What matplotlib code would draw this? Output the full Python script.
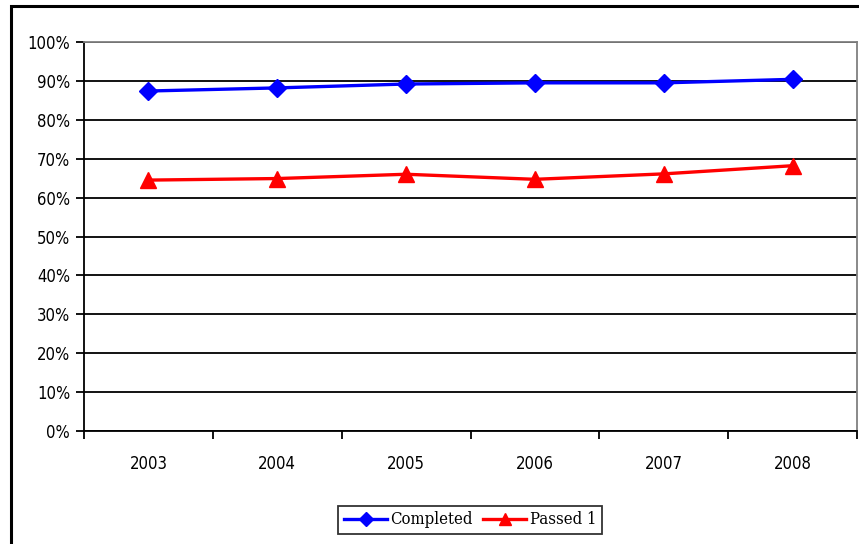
import matplotlib.pyplot as plt
from matplotlib.patches import Rectangle
from matplotlib.ticker import FixedLocator, PercentFormatter

years = ['2003', '2004', '2005', '2006', '2007', '2008']
completed = [87.4, 88.2, 89.2, 89.5, 89.5, 90.4]
passed_1 = [64.5, 64.9, 66.0, 64.7, 66.1, 68.2]

fig = plt.figure(figsize=(8.59, 5.44), dpi=100)
ax = fig.add_axes([0.0978, 0.2077, 0.8999, 0.7151])

# outer chart border
fig.patches.append(Rectangle((11 / 859, -0.05), 1.0, 0.05 + 1 - 6 / 544,
                             transform=fig.transFigure, fill=False,
                             edgecolor='black', linewidth=2.2))

x = range(len(years))
ax.plot(x, completed, color='#0000ff', lw=2.4, marker='D', ms=9, label='Completed')
ax.plot(x, passed_1, color='#ff0000', lw=2.4, marker='^', ms=11, label='Passed 1')

ax.set_xlim(-0.5, len(years) - 0.5)
ax.set_ylim(0, 100)
ax.set_yticks(range(0, 101, 10))
ax.yaxis.set_major_formatter(PercentFormatter(decimals=0))
ax.grid(axis='y', color='black', lw=1.3)
ax.set_axisbelow(True)

# category labels centered, tick marks at the category boundaries
ax.set_xticks(list(x))
ax.set_xticklabels(years)
ax.xaxis.set_minor_locator(FixedLocator([i - 0.5 for i in range(len(years) + 1)]))
ax.tick_params(axis='x', which='major', length=0, pad=17)
ax.tick_params(axis='x', which='minor', length=6, width=1.3, direction='out')
ax.tick_params(axis='y', length=6, width=1.3, pad=4)

for lbl in ax.get_xticklabels() + ax.get_yticklabels():
    lbl.set_fontfamily('DejaVu Sans')
    lbl.set_fontstretch('condensed')
    lbl.set_fontsize(12)

ax.spines['left'].set_linewidth(1.3)
ax.spines['bottom'].set_linewidth(1.3)
for s in ('top', 'right'):
    ax.spines[s].set_color('#808080')
    ax.spines[s].set_linewidth(1.3)

leg = fig.legend(loc='center', bbox_to_anchor=(470 / 859, 1 - 520 / 544), ncol=2,
                 frameon=True, fancybox=False, edgecolor='black',
                 prop={'family': 'DejaVu Serif', 'stretch': 'condensed', 'size': 12},
                 handlelength=2.6, columnspacing=0.6, handletextpad=0.2,
                 borderpad=0.35, borderaxespad=0, markerscale=0.8)
leg.get_frame().set_linewidth(1.3)

fig.savefig('out.png', dpi=100)
